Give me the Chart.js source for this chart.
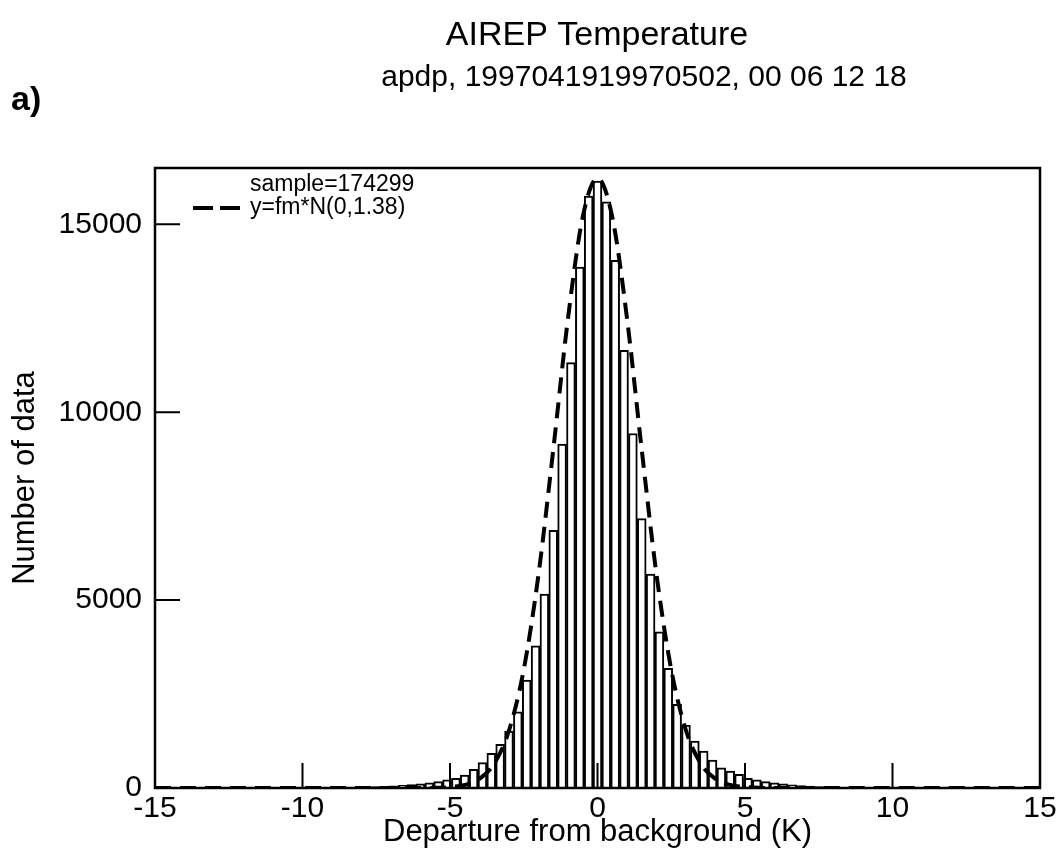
<!DOCTYPE html>
<html>
<head>
<meta charset="utf-8">
<title>AIREP Temperature</title>
<script src="https://cdn.jsdelivr.net/npm/chart.js@4.4.0/dist/chart.umd.min.js"></script>
<style>
  body { margin: 0; background: #fff; }
  #chart { display: block; }
</style>
</head>
<body>
<canvas id="chart" width="1064" height="854"></canvas>
<script>
// centros de las clases (K), ancho 0.3
const binCenters = [
  -8.1, -7.8, -7.5, -7.2, -6.9, -6.6, -6.3, -6.0, -5.7, -5.4, -5.1, -4.8, -4.5, -4.2,
  -3.9, -3.6, -3.3, -3.0, -2.7, -2.4, -2.1, -1.8, -1.5, -1.2, -0.9, -0.6, -0.3, 0,
  0.3, 0.6, 0.9, 1.2, 1.5, 1.8, 2.1, 2.4, 2.7, 3.0, 3.3, 3.6, 3.9, 4.2, 4.5, 4.8,
  5.1, 5.4, 5.7, 6.0, 6.3, 6.6, 6.9, 7.2, 7.5, 7.8, 8.1
];
// numero de datos por clase
const binCounts = [
  20, 25, 35, 45, 55, 70, 90, 110, 135, 170, 215, 260, 345, 500,
  675, 925, 1160, 1515, 2030, 2870, 3785, 5160, 6855, 9150, 11320, 13865, 15750, 16150,
  15600, 14045, 11650, 9435, 7170, 5690, 4155, 3185, 2225, 1675, 1250, 985, 745, 540,
  450, 365, 260, 215, 170, 135, 110, 85, 65, 50, 40, 30, 22
];
// curva y=fm*N(0,1.38)
const curveX = [-15, -8, -6, -5.5, -5, -4.5, -4, -3.5, -3, -2.5, -2, -1.5, -1, -0.5, 0,
  0.5, 1, 1.5, 2, 2.5, 3, 3.5, 4, 4.5, 5, 5.5, 6, 8, 15];
const curveY = [0, 0, 1, 5, 25, 80, 240, 650, 1530, 3150, 5680, 9000, 12500, 15200, 16230,
  15200, 12500, 9000, 5680, 3150, 1530, 650, 240, 80, 25, 5, 1, 0, 0];

const xTicks = [-15, -10, -5, 0, 5, 10, 15];
const yTicks = [0, 5000, 10000, 15000];

const FONT = "'Liberation Sans', Arial, Helvetica, sans-serif";
Chart.defaults.color = "#000";
Chart.defaults.font.family = FONT;

// titulos, marco, marcas hacia adentro, leyenda y "a)"
const frame = {
  id: "frame",
  afterDraw(chart) {
    const { ctx, chartArea: a, scales } = chart;
    ctx.save();
    ctx.fillStyle = "#000";
    ctx.textAlign = "center";
    ctx.textBaseline = "middle";
    ctx.font = "34px " + FONT;
    ctx.fillText("AIREP Temperature", 597, 36);
    ctx.font = "30px " + FONT;
    ctx.fillText("apdp, 1997041919970502, 00 06 12 18", 644, 78);

    ctx.strokeStyle = "#000";
    ctx.lineWidth = 2.5;
    ctx.setLineDash([]);
    ctx.strokeRect(a.left, a.top, a.right - a.left, a.bottom - a.top);

    ctx.lineWidth = 2;
    ctx.beginPath();
    xTicks.forEach((v) => {
      if (v <= -15 || v >= 15) return;
      const px = scales.x.getPixelForValue(v);
      ctx.moveTo(px, a.bottom);
      ctx.lineTo(px, a.bottom - 25);
    });
    yTicks.forEach((v) => {
      if (v === 0) return;
      const py = scales.y.getPixelForValue(v);
      ctx.moveTo(a.left, py);
      ctx.lineTo(a.left + 25, py);
    });
    ctx.stroke();

    // leyenda
    ctx.font = "23px " + FONT;
    ctx.textAlign = "left";
    ctx.fillText("sample=174299", 250, 185);
    ctx.fillText("y=fm*N(0,1.38)", 250, 208);
    ctx.lineWidth = 4;
    ctx.setLineDash([20, 7]);
    ctx.beginPath();
    ctx.moveTo(193, 208);
    ctx.lineTo(240, 208);
    ctx.stroke();
    ctx.setLineDash([]);

    ctx.font = "bold 34px " + FONT;
    ctx.fillText("a)", 11, 101);
    ctx.restore();
  },
};

new Chart(document.getElementById("chart"), {
  type: "bar",
  data: {
    datasets: [
      {
        type: "line",
        label: "y=fm*N(0,1.38)",
        data: curveX.map((x, i) => ({ x: x, y: curveY[i] })),
        borderColor: "#000",
        borderWidth: 4,
        borderDash: [16, 9],
        pointRadius: 0,
        cubicInterpolationMode: "monotone",
        fill: false,
        order: 0,
      },
      {
        type: "bar",
        label: "sample=174299",
        data: binCenters.map((x, i) => ({ x: x, y: binCounts[i] })),
        backgroundColor: "#fff",
        borderColor: "#000",
        borderWidth: 2,
        barPercentage: 1,
        categoryPercentage: 1,
        order: 1,
      },
    ],
  },
  options: {
    responsive: false,
    animation: false,
    layout: { padding: { left: 0, right: 24, top: 168, bottom: 0 } },
    plugins: {
      legend: { display: false },
      tooltip: { enabled: false },
    },
    scales: {
      x: {
        type: "linear",
        min: -15,
        max: 15,
        offset: false,
        grid: { display: false, drawTicks: false },
        border: { display: false },
        afterBuildTicks(s) { s.ticks = xTicks.map((v) => ({ value: v })); },
        ticks: { font: { size: 30 }, padding: 3, maxRotation: 0, callback: (v) => String(v) },
        title: {
          display: true,
          text: "Departure from background (K)",
          font: { size: 31 },
          padding: { top: 0, bottom: 3 },
        },
        afterFit(s) { s.height = 66; },
      },
      y: {
        min: 0,
        max: 16500,
        grid: { display: false, drawTicks: false },
        border: { display: false },
        afterBuildTicks(s) { s.ticks = yTicks.map((v) => ({ value: v })); },
        ticks: { font: { size: 30 }, padding: 13, callback: (v) => String(v) },
        title: {
          display: true,
          text: "Number of data",
          font: { size: 31 },
          padding: { top: 7, bottom: 0 },
        },
        afterFit(s) { s.width = 155; },
      },
    },
  },
  plugins: [frame],
});
</script>
</body>
</html>
